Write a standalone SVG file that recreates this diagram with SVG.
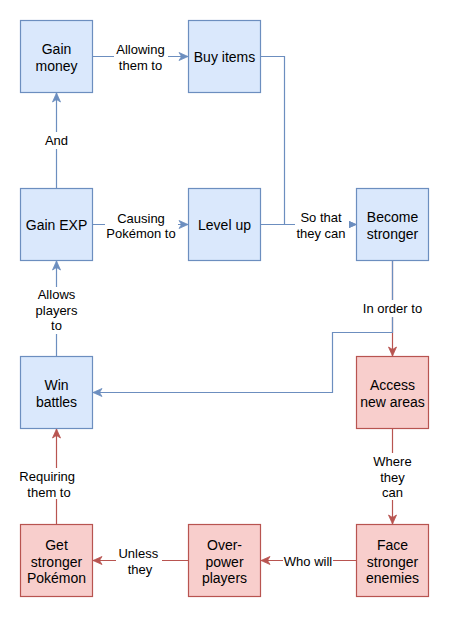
<svg xmlns="http://www.w3.org/2000/svg" width="456" height="635" viewBox="0 0 456 635">
<defs>
<style>
.nb{fill:#dae8fc;stroke:#6c8ebf;stroke-width:1.2}
.nr{fill:#f8cecc;stroke:#b85450;stroke-width:1.2}
.t{font-family:"Liberation Sans",Arial,sans-serif;font-size:14px;fill:#000;text-anchor:middle}
.l{font-family:"Liberation Sans",Arial,sans-serif;font-size:13px;fill:#000;text-anchor:middle}
.eb{fill:none;stroke:#6c8ebf;stroke-width:1.2;marker-end:url(#ab)}
.er{fill:none;stroke:#b85450;stroke-width:1.2;marker-end:url(#ar)}
.bg{fill:#fff}
</style>
<marker id="ab" viewBox="-10 -5 10 10" refX="0" refY="0" markerWidth="10" markerHeight="10" markerUnits="userSpaceOnUse" orient="auto">
<path d="M-9,-4 L0,0 L-9,4 L-6.5,0 Z" fill="#6c8ebf" stroke="#6c8ebf" stroke-width="0.8"/>
</marker>
<marker id="ar" viewBox="-10 -5 10 10" refX="0" refY="0" markerWidth="10" markerHeight="10" markerUnits="userSpaceOnUse" orient="auto">
<path d="M-9,-4 L0,0 L-9,4 L-6.5,0 Z" fill="#b85450" stroke="#b85450" stroke-width="0.8"/>
</marker>
</defs>
<rect width="456" height="635" fill="#fff"/>
<g id="connectors">
<path class="er" d="M392.5,260.5 L392.5,356"/>
<path class="eb" d="M392.5,260.5 L392.5,332.5 L332.5,332.5 L332.5,392.5 L93,392.5"/>
<path class="eb" d="M56.5,188.5 L56.5,93"/>
<path class="eb" d="M92.5,56.5 L188,56.5"/>
<path class="eb" d="M92.5,224.5 L188,224.5"/>
<path class="eb" d="M260.5,56.5 L284.5,56.5 L284.5,224.5 L356,224.5"/>
<path class="eb" d="M260.5,224.5 L356,224.5"/>
<path class="eb" d="M56.5,356.5 L56.5,261"/>
<path class="er" d="M392.5,428.5 L392.5,524"/>
<path class="er" d="M356.5,560.5 L261,560.5"/>
<path class="er" d="M188.5,560.5 L93,560.5"/>
<path class="er" d="M56.5,524.5 L56.5,429"/>
<g id="labels">
<rect class="bg" x="114" y="42" width="54" height="31"/>
<text class="l" x="140.5" y="54">Allowing</text>
<text class="l" x="140.5" y="69.5">them to</text>
<rect class="bg" x="43" y="132" width="27" height="17"/>
<text class="l" x="56.5" y="144.5">And</text>
<rect class="bg" x="105" y="210" width="73" height="31"/>
<text class="l" x="141" y="223">Causing</text>
<text class="l" x="141" y="238">Pokémon to</text>
<rect class="bg" x="295" y="209" width="54" height="32"/>
<text class="l" x="321" y="222">So that</text>
<text class="l" x="321" y="238">they can</text>
<rect class="bg" x="360" y="300" width="66" height="17"/>
<text class="l" x="392.5" y="313">In order to</text>
<rect class="bg" x="34" y="287" width="45" height="47"/>
<text class="l" x="56.5" y="299">Allows</text>
<text class="l" x="56.5" y="315">players</text>
<text class="l" x="56.5" y="330">to</text>
<rect class="bg" x="18" y="468" width="60" height="31"/>
<text class="l" x="47.2" y="481">Requiring</text>
<text class="l" x="49" y="497">them to</text>
<rect class="bg" x="370" y="453" width="45" height="47"/>
<text class="l" x="392.5" y="466">Where</text>
<text class="l" x="392.5" y="481.5">they</text>
<text class="l" x="392.5" y="497">can</text>
<rect class="bg" x="116" y="545" width="46" height="32"/>
<text class="l" x="138.3" y="557.5">Unless</text>
<text class="l" x="140" y="573.5">they</text>
<rect class="bg" x="283" y="552" width="50" height="17"/>
<text class="l" x="308" y="565.5">Who will</text>
</g>
</g>
<g id="gain-money"><rect class="nb" x="20.5" y="20.5" width="72" height="72"/><text class="t" x="56.5" y="54">Gain</text><text class="t" x="56.5" y="70.5">money</text></g>
<g id="buy-items"><rect class="nb" x="188.5" y="20.5" width="72" height="72"/><text class="t" x="224.5" y="62">Buy items</text></g>
<g id="gain-exp"><rect class="nb" x="20.5" y="188.5" width="72" height="72"/><text class="t" x="56.5" y="230">Gain EXP</text></g>
<g id="level-up"><rect class="nb" x="188.5" y="188.5" width="72" height="72"/><text class="t" x="224.5" y="230">Level up</text></g>
<g id="become-stronger"><rect class="nb" x="356.5" y="188.5" width="72" height="72"/><text class="t" x="392.5" y="222">Become</text><text class="t" x="392.5" y="238.5">stronger</text></g>
<g id="win-battles"><rect class="nb" x="20.5" y="356.5" width="72" height="72"/><text class="t" x="56.5" y="390">Win</text><text class="t" x="56.5" y="406.5">battles</text></g>
<g id="access-new-areas"><rect class="nr" x="356.5" y="356.5" width="72" height="72"/><text class="t" x="392.5" y="390">Access</text><text class="t" x="392.5" y="406.5">new areas</text></g>
<g id="get-stronger-pokemon"><rect class="nr" x="20.5" y="524.5" width="72" height="72"/><text class="t" x="56.5" y="550">Get</text><text class="t" x="56.5" y="566.5">stronger</text><text class="t" x="56.5" y="582.5">Pokémon</text></g>
<g id="over-power-players"><rect class="nr" x="188.5" y="524.5" width="72" height="72"/><text class="t" x="224.5" y="550">Over-</text><text class="t" x="224.5" y="566.5">power</text><text class="t" x="224.5" y="582.5">players</text></g>
<g id="face-stronger-enemies"><rect class="nr" x="356.5" y="524.5" width="72" height="72"/><text class="t" x="392.5" y="550">Face</text><text class="t" x="392.5" y="566.5">stronger</text><text class="t" x="392.5" y="582.5">enemies</text></g>
</svg>
